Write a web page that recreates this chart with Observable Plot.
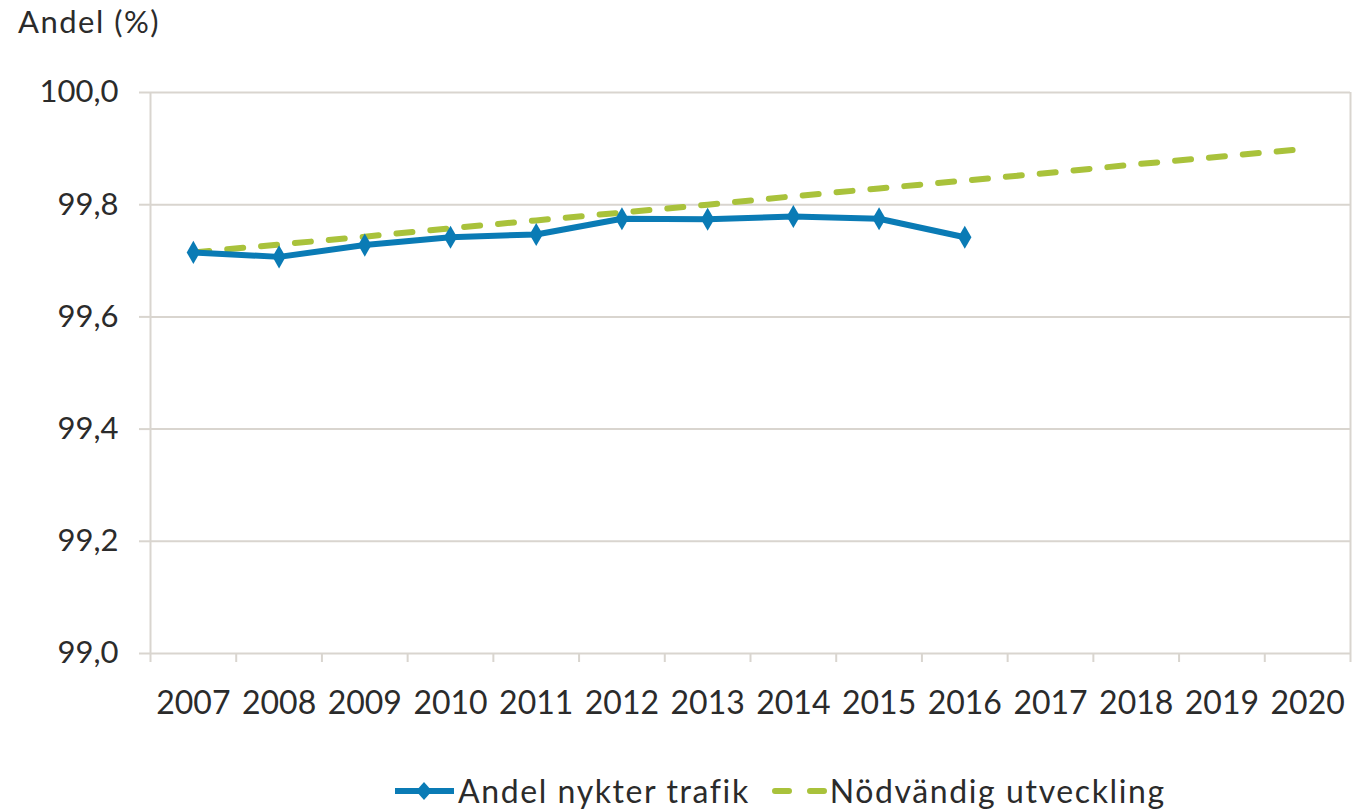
<!DOCTYPE html>
<html><head><meta charset="utf-8">
<script src="https://cdn.jsdelivr.net/npm/d3@7"></script>
<script src="https://cdn.jsdelivr.net/npm/@observablehq/plot@0.6"></script>
<style>
body{margin:0;background:#fff;font-family:Lato,sans-serif;color:#2b2b2b}
#wrap{position:relative;width:1360px;height:809px;overflow:hidden}
#title{position:absolute;left:18px;top:2px;font-size:31px;line-height:38px;letter-spacing:1.5px}
#chart{position:absolute;left:0;top:50px}
#legend{position:absolute;left:395px;top:774px;display:flex;align-items:center;font-size:32px;line-height:34px;letter-spacing:1.6px;white-space:nowrap}
#legend .item{display:flex;align-items:center}
#legend svg{display:block}
</style></head><body>
<div id="wrap"><div id="title">Andel (%)</div><div id="chart"></div><div id="legend"></div></div>
<script>
const years = [2007, 2008, 2009, 2010, 2011, 2012, 2013, 2014, 2015, 2016, 2017, 2018, 2019, 2020];
const nykterYears = [2007, 2008, 2009, 2010, 2011, 2012, 2013, 2014, 2015, 2016];
const andelNykterTrafik = [99.715, 99.707, 99.728, 99.742, 99.747, 99.775, 99.774, 99.779, 99.775, 99.742];
const nodvandigUtveckling = [99.715, 99.729, 99.743, 99.758, 99.772, 99.786, 99.800, 99.815, 99.829, 99.843, 99.857, 99.872, 99.886, 99.900];
const yTicks = [99.0, 99.2, 99.4, 99.6, 99.8, 100.0];
const seriesNames = ["Andel nykter trafik", "Nödvändig utveckling"];

const blue = "#0a7bb5", green = "#a9c23b", grid = "#d9d5cf";
const fmt = d => d3.format(".1f")(d).replace(".", ",");
const bounds = years.map(y => y - 0.5).concat([years[years.length - 1] + 0.5]);
const nykter = nykterYears.map((x, i) => ({x, y: andelNykterTrafik[i]}));
const nodv = years.map((x, i) => ({x, y: nodvandigUtveckling[i]}));

const plot = Plot.plot({
  width: 1360, height: 680,
  marginTop: 42, marginLeft: 150, marginRight: 10, marginBottom: 77,
  style: {fontFamily: "Lato, sans-serif", fontSize: "32px", color: "#2b2b2b", background: "white"},
  x: {type: "linear", domain: [bounds[0], bounds[bounds.length - 1]]},
  y: {domain: [yTicks[0], yTicks[yTicks.length - 1]]},
  marks: [
    Plot.gridY(yTicks, {stroke: grid, strokeOpacity: 1, strokeWidth: 2}),
    Plot.ruleX([bounds[0], bounds[bounds.length - 1]], {stroke: grid, strokeWidth: 2}),
    Plot.axisY(yTicks, {tickSize: 11, tickPadding: 21, tickFormat: fmt, stroke: grid, strokeWidth: 2, label: null, fontSize: 31}),
    Plot.axisX(bounds, {tickSize: 9, tickFormat: () => "", stroke: grid, strokeWidth: 2, label: null}),
    Plot.axisX(years, {tickSize: 0, tickPadding: 38, tickFormat: d => String(d), label: null, fontSize: 32}),
    Plot.line(nodv, {x: "x", y: "y", stroke: green, strokeWidth: 6, strokeDasharray: "16,18", strokeLinecap: "round"}),
    Plot.line(nykter, {x: "x", y: "y", stroke: blue, strokeWidth: 6}),
    Plot.dot(nykter, {x: "x", y: "y", symbol: "diamond", r: 7, fill: blue})
  ]
});
document.getElementById("chart").appendChild(plot);

const legend = document.getElementById("legend");
legend.innerHTML = `
<div class="item"><svg width="60" height="30"><line x1="0" y1="15" x2="59" y2="15" stroke="${blue}" stroke-width="6"/><path d="M29,6 L37,15 L29,24 L21,15 Z" fill="${blue}"/></svg><span style="margin-left:3px">${seriesNames[0]}</span></div>
<div class="item" style="margin-left:22px"><svg width="55" height="30"><line x1="3" y1="15" x2="52" y2="15" stroke="${green}" stroke-width="6" stroke-linecap="round" stroke-dasharray="14,21"/></svg><span style="margin-left:3px">${seriesNames[1]}</span></div>`;
</script>
</body></html>
